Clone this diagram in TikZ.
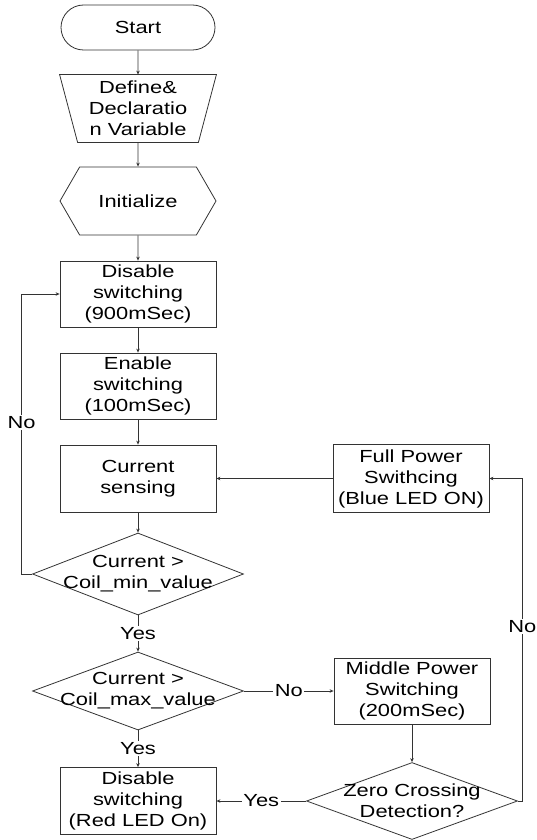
\documentclass[tikz,border=0pt]{standalone}
\usepackage{fontspec}
\setmainfont{Liberation Sans}[FakeStretch=1.25]
\usetikzlibrary{shapes.geometric,shapes.misc,shapes.symbols,arrows.meta}

\tikzset{
    base/.style={draw=black!80, line width=0.8pt, align=center, inner sep=1pt,
        font=\fontsize{17.5}{21}\selectfont},
    term/.style={base, rounded rectangle, minimum width=156pt, minimum height=45pt},
    manualbox/.style={base, draw=none, rectangle, minimum width=156pt, minimum height=67pt},
    prep/.style={base, signal, signal to=east and west, signal pointer angle=120,
        minimum width=156pt, minimum height=68pt},
    process/.style={base, rectangle, minimum width=156pt, minimum height=66pt},
    decision/.style={base, diamond, minimum width=211pt, minimum height=80pt, inner sep=0pt},
    dtext/.style={align=center, inner sep=0pt, font=\fontsize{17.5}{21}\selectfont},
    lbl/.style={fill=white, inner sep=1.5pt, font=\fontsize{17.5}{21}\selectfont},
    line/.style={draw=black!80, line width=0.8pt},
}

\begin{document}
\begin{tikzpicture}[x=1pt, y=-1pt, >={Stealth[length=4pt,width=3.5pt]}]
    \useasboundingbox (0,0) rectangle (536,840);

    % main column
    \node[term] (start) at (138,27.5) {Start};
    \node[manualbox] (define) at (138,108.5) {Define\&\\Declaratio\\n Variable};
    \draw[line] (define.north west) -- (define.north east)
        -- ([xshift=-18pt]define.south east) -- ([xshift=18pt]define.south west) -- cycle;
    \node[prep] (init) at (138,201) {Initialize};
    \node[process] (dis) at (138,294) {Disable\\switching\\(900mSec)};
    \node[process] (en) at (138,386) {Enable\\switching\\(100mSec)};
    \node[process, minimum height=67pt] (sense) at (138,478.5) {Current\\sensing};
    \node[decision, minimum height=82pt] (dmin) at (138,574) {};
    \node[dtext] (dmintext) at (dmin) {Current >\\Coil\_min\_value};
    \node[decision, minimum height=78pt] (dmax) at (138,691) {};
    \node[dtext] (dmaxtext) at (dmax) {Current >\\Coil\_max\_value};
    \node[process, minimum height=67pt] (red) at (138,801) {Disable\\switching\\(Red LED On)};

    % right column
    \node[process, minimum height=68pt] (full) at (411,478.5) {Full Power\\Swithcing\\(Blue LED ON)};
    \node[process] (mid) at (412,691) {Middle Power\\Switching\\(200mSec)};
    \node[decision, minimum height=77pt] (zero) at (412,801) {};
    \node[dtext] (zerotext) at (zero) {Zero Crossing\\Detection?};

    \draw[line, ->] (start) -- (define);
    \draw[line, ->] (define) -- (init);
    \draw[line, ->] (init) -- (dis);
    \draw[line, ->] (dis) -- (en);
    \draw[line, ->] (en) -- (sense);
    \draw[line, ->] (sense) -- (dmin);
    \draw[line, ->] (dmin.south) -- node[lbl] {Yes} (dmax.north);
    \draw[line, ->] (dmax.south) -- node[lbl] {Yes} (red.north);
    \draw[line, ->] (dmax.east) -- node[lbl] {No} (mid.west);
    \draw[line, ->] (mid) -- (zero);
    \draw[line, ->] (zero.west) -- node[lbl] {Yes} (red.east);
    \draw[line, ->] (full.west) -- (sense.east);

    % loops back
    \draw[line, ->] (dmin.west) -- ++(-10.5,0) |- node[lbl, pos=0.27] {No} (dis.west);
    \draw[line, ->] (zero.east) -- ++(4.5,0) |- node[lbl, pos=0.27] {No} (full.east);

\end{tikzpicture}
\end{document}
